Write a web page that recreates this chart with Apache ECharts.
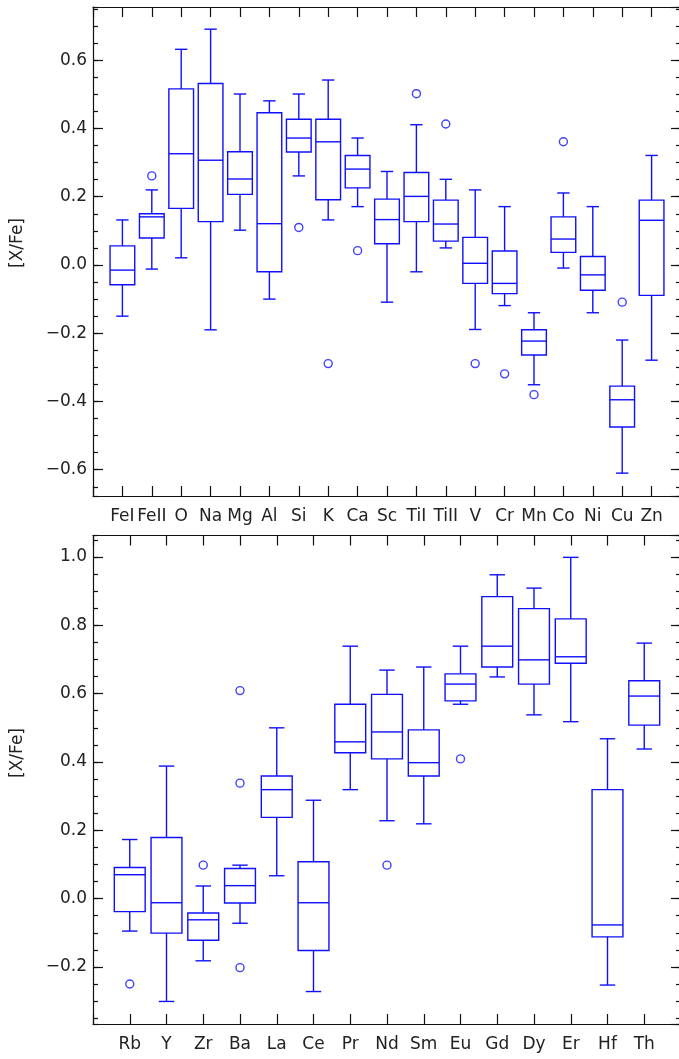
<!DOCTYPE html>
<html>
<head>
<meta charset="utf-8">
<script src="https://cdn.jsdelivr.net/npm/echarts@6/dist/echarts.min.js"></script>
<style>
html,body{margin:0;padding:0;background:#fff;}
#chart{width:679px;height:1059px;}
</style>
</head>
<body>
<div id="chart"></div>
<script>
// ---------- Top panel data ----------
const topNames = ['FeI','FeII','O','Na','Mg','Al','Si','K','Ca','Sc','TiI','TiII','V','Cr','Mn','Co','Ni','Cu','Zn'];
const topLow  = [-0.150,-0.012, 0.021,-0.190, 0.102,-0.100, 0.261, 0.132, 0.171,-0.109,-0.020, 0.050,-0.189,-0.119,-0.351,-0.009,-0.140,-0.610,-0.279];
const topQ1   = [-0.058, 0.079, 0.166, 0.127, 0.207,-0.020, 0.331, 0.191, 0.226, 0.062, 0.127, 0.070,-0.054,-0.084,-0.264, 0.037,-0.074,-0.475,-0.089];
const topMed  = [-0.015, 0.141, 0.326, 0.307, 0.252, 0.121, 0.372, 0.361, 0.281, 0.133, 0.201, 0.120, 0.005,-0.054,-0.223, 0.076,-0.029,-0.395, 0.131];
const topQ3   = [ 0.056, 0.150, 0.516, 0.532, 0.332, 0.446, 0.427, 0.427, 0.321, 0.193, 0.271, 0.190, 0.081, 0.041,-0.190, 0.141, 0.025,-0.355, 0.190];
const topHigh = [ 0.132, 0.220, 0.632, 0.691, 0.501, 0.481, 0.501, 0.542, 0.372, 0.274, 0.411, 0.251, 0.220, 0.171,-0.140, 0.211, 0.171,-0.220, 0.321];
const topOutlierNames  = ['FeII','Si','K','Ca','TiI','TiII','V','Cr','Mn','Co','Cu'];
const topOutlierValues = [0.261, 0.110,-0.289, 0.042, 0.502, 0.413,-0.289,-0.319,-0.380, 0.361,-0.109];

// ---------- Bottom panel data ----------
const botNames = ['Rb','Y','Zr','Ba','La','Ce','Pr','Nd','Sm','Eu','Gd','Dy','Er','Hf','Th'];
const botLow  = [-0.095,-0.301,-0.182,-0.072, 0.067,-0.272, 0.319, 0.228, 0.219, 0.569, 0.649, 0.538, 0.518,-0.253, 0.438];
const botQ1   = [-0.038,-0.101,-0.122,-0.013, 0.238,-0.152, 0.427, 0.409, 0.359, 0.579, 0.678, 0.628, 0.689,-0.112, 0.508];
const botMed  = [ 0.070,-0.012,-0.062, 0.038, 0.319,-0.012, 0.459, 0.488, 0.398, 0.628, 0.739, 0.699, 0.708,-0.077, 0.593];
const botQ3   = [ 0.091, 0.179,-0.042, 0.088, 0.359, 0.108, 0.569, 0.598, 0.494, 0.658, 0.884, 0.849, 0.819, 0.319, 0.638];
const botHigh = [ 0.173, 0.388, 0.037, 0.098, 0.500, 0.288, 0.739, 0.669, 0.678, 0.739, 0.948, 0.909, 0.999, 0.468, 0.748];
const botOutlierNames  = ['Rb','Zr','Ba','Ba','Ba','Nd','Eu'];
const botOutlierValues = [-0.250, 0.098, 0.609, 0.338,-0.202, 0.098, 0.409];

const yTitle = '[X/Fe]';

// ---------- build ----------
const BLUE = '#1010ff';
const INK = '#222';
const FONT = 'DejaVu Sans';

function padCats(names){ return [' '].concat(names, ['  ']); }
function boxData(names, lo, q1, md, q3, hi){
  return names.map((n,i)=>[i+1, lo[i], q1[i], md[i], q3[i], hi[i]]);
}
function outData(allNames, oNames, oVals){
  return oNames.map((n,i)=>[allNames.indexOf(n)+1, oVals[i]]);
}
function renderBox(params, api){
  const x = api.value(0);
  const lo = api.coord([x, api.value(1)]);
  const q1 = api.coord([x, api.value(2)]);
  const md = api.coord([x, api.value(3)]);
  const q3 = api.coord([x, api.value(4)]);
  const hi = api.coord([x, api.value(5)]);
  const band = api.size([1,0])[0];
  const bw = band*0.84/2, cw = band*0.42/2;
  const cx = md[0];
  const st = {stroke: BLUE, lineWidth: 1.4, fill: null};
  return {type:'group', children:[
    {type:'rect', shape:{x:cx-bw, y:q3[1], width:2*bw, height:q1[1]-q3[1]}, style:Object.assign({}, st, {fill:'none'})},
    {type:'line', shape:{x1:cx-bw, y1:md[1], x2:cx+bw, y2:md[1]}, style:st},
    {type:'line', shape:{x1:cx, y1:q3[1], x2:cx, y2:hi[1]}, style:st},
    {type:'line', shape:{x1:cx, y1:q1[1], x2:cx, y2:lo[1]}, style:st},
    {type:'line', shape:{x1:cx-cw, y1:hi[1], x2:cx+cw, y2:hi[1]}, style:st},
    {type:'line', shape:{x1:cx-cw, y1:lo[1], x2:cx+cw, y2:lo[1]}, style:st}
  ]};
}

const axisLineStyle = {show:true, onZero:false, lineStyle:{color:'#111', width:1.2}};
function xAxes(gridIndex, cats){
  return [
    {type:'category', gridIndex, data:cats, boundaryGap:false, position:'bottom',
     axisLine:axisLineStyle,
     axisTick:{show:true, inside:true, length:10, interval:0, lineStyle:{color:'#111', width:1.2}},
     axisLabel:{show:true, interval:0, margin:12, color:INK, fontSize:17, fontFamily:FONT, hideOverlap:false},
     splitLine:{show:false}},
    {type:'category', gridIndex, data:cats, boundaryGap:false, position:'top',
     axisLine:axisLineStyle,
     axisTick:{show:true, inside:true, length:10, interval:0, lineStyle:{color:'#111', width:1.2}},
     axisLabel:{show:false}, splitLine:{show:false}}
  ];
}
function fmt(v){ return v.toFixed(1).replace('-', '\u2212'); }
function yAxes(gridIndex, min, max){
  const base = {type:'value', gridIndex, min, max, splitLine:{show:false}, scale:false};
  return [
    Object.assign({}, base, {position:'left', splitNumber:7,
      axisLine:axisLineStyle,
      axisTick:{show:true, inside:true, length:10, lineStyle:{color:'#111', width:1.2}},
      axisLabel:{show:true, margin:6, color:INK, fontSize:17, fontFamily:FONT, formatter:fmt, showMinLabel:false, showMaxLabel:false}}),
    Object.assign({}, base, {position:'left', splitNumber:28,
      axisLine:{show:false, onZero:false},
      axisTick:{show:true, inside:true, length:5, lineStyle:{color:'#111', width:1.2}},
      axisLabel:{show:false}}),
    Object.assign({}, base, {position:'right', splitNumber:7,
      axisLine:axisLineStyle,
      axisTick:{show:true, inside:true, length:10, lineStyle:{color:'#111', width:1.2}},
      axisLabel:{show:false}}),
    Object.assign({}, base, {position:'right', splitNumber:28,
      axisLine:{show:false, onZero:false},
      axisTick:{show:true, inside:true, length:5, lineStyle:{color:'#111', width:1.2}},
      axisLabel:{show:false}})
  ];
}

const option = {
  animation:false,
  backgroundColor:'#fff',
  grid:[
    {left:93, top:7, width:588, height:489, containLabel:false, outerBoundsMode:'none'},
    {left:93, top:535.5, width:588, height:488.5, containLabel:false, outerBoundsMode:'none'}
  ],
  xAxis: xAxes(0, padCats(topNames)).concat(xAxes(1, padCats(botNames))),
  yAxis: yAxes(0, -0.677, 0.756).concat(yAxes(1, -0.367, 1.063)),
  graphic:[
    {type:'text', x:18, y:243, rotation:Math.PI/2, style:{text:yTitle, font:'17px "DejaVu Sans"', fill:INK, align:'center', verticalAlign:'middle'}},
    {type:'text', x:18, y:753, rotation:Math.PI/2, style:{text:yTitle, font:'17px "DejaVu Sans"', fill:INK, align:'center', verticalAlign:'middle'}}
  ],
  series:[
    {type:'custom', xAxisIndex:0, yAxisIndex:0, renderItem:renderBox, clip:false,
     encode:{x:0, y:[1,2,3,4,5]},
     data: boxData(topNames, topLow, topQ1, topMed, topQ3, topHigh)},
    {type:'scatter', xAxisIndex:0, yAxisIndex:0, symbol:'circle', symbolSize:8,
     itemStyle:{color:'#fff', borderColor:BLUE, borderWidth:1.4},
     data: outData(topNames, topOutlierNames, topOutlierValues)},
    {type:'custom', xAxisIndex:2, yAxisIndex:4, renderItem:renderBox, clip:false,
     encode:{x:0, y:[1,2,3,4,5]},
     data: boxData(botNames, botLow, botQ1, botMed, botQ3, botHigh)},
    {type:'scatter', xAxisIndex:2, yAxisIndex:4, symbol:'circle', symbolSize:8,
     itemStyle:{color:'#fff', borderColor:BLUE, borderWidth:1.4},
     data: outData(botNames, botOutlierNames, botOutlierValues)}
  ]
};
const chart = echarts.init(document.getElementById('chart'), null, {renderer:'canvas'});
chart.setOption(option);
</script>
</body>
</html>
